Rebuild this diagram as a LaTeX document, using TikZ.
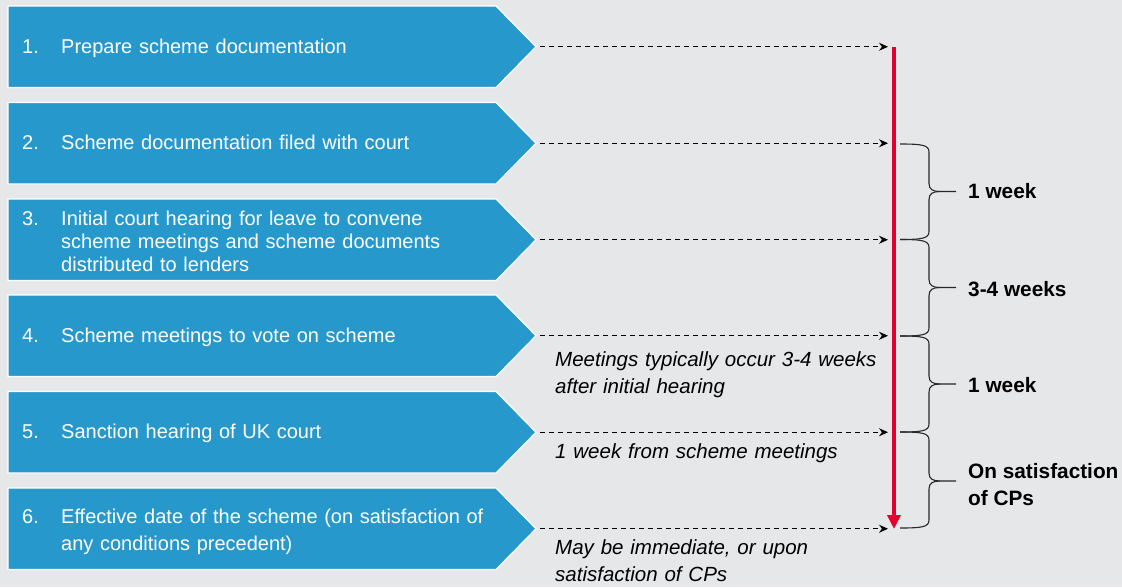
\documentclass[tikz,border=0pt]{standalone}
\usepackage{fontspec}
\setmainfont{Liberation Sans}
\usetikzlibrary{arrows.meta}
\definecolor{bg}{RGB}{230,231,233}
\definecolor{boxblue}{RGB}{38,152,203}
\definecolor{tlred}{RGB}{226,0,48}
\definecolor{bracegray}{RGB}{40,40,40}
\newcommand{\timebrace}[3]{%
  \draw[bracestyle] (900,#1) .. controls (922,#1) and (929,#1+1) .. (929,#1+8)
    -- (929,#3-8) .. controls (929,#3-2) and (933,#3) .. (940,#3) -- (956,#3);
  \draw[bracestyle] (940,#3) .. controls (933,#3) and (929,#3+2) .. (929,#3+8)
    -- (929,#2-8) .. controls (929,#2-1) and (922,#2) .. (900,#2);
}
\begin{document}
\begin{tikzpicture}[x=1pt,y=-1pt,
  chev/.style={fill=boxblue, draw=white, line width=1.2pt},
  boxtxt/.style={text=white, font=\fontsize{20}{23}\selectfont, inner sep=0pt, anchor=base west},
  boxline/.style={boxtxt, text width=440pt, align=left},
  notetxt/.style={font=\fontsize{20.5}{27}\selectfont\itshape, inner sep=0pt, anchor=base west, text width=340pt, align=left},
  durlabel/.style={font=\fontsize{20.8}{27}\selectfont\bfseries, inner sep=0pt, anchor=west, align=left},
  dasharrow/.style={dash pattern=on 5pt off 4pt, line width=1pt, -{Stealth[length=9pt,width=8pt]}},
  redline/.style={draw=tlred, line width=4pt, -{Triangle[length=14pt,width=13pt]}},
  bracestyle/.style={draw=bracegray, line width=1.1pt}
]
\fill[bg] (0,0) rectangle (1122,587);
\useasboundingbox (0,0) rectangle (1122,587);

% chevrons
\foreach \i/\t in {1/6,2/102.5,3/199,4/295,5/391.5,6/488}{
  \path[chev] (8,\t) -- (496,\t) -- (536,\t+40.75) -- (496,\t+81.5) -- (8,\t+81.5) -- cycle;
  \coordinate (tip\i) at (540,\t+40.75);
  \coordinate (m\i) at (888,\t+40.75);
}

% box texts
\node[boxtxt] (n1) at (22,53.3) {1.};
\node[boxline] (t1) at (61,53.3) {Prepare scheme documentation};
\node[boxtxt] (n2) at (22,149.8) {2.};
\node[boxline] (t2) at (61,149.8) {Scheme documentation filed with court};
\node[boxtxt] (n3) at (22,225) {3.};
\node[boxline] (t3) at (61,225) {Initial court hearing for leave to convene\\scheme meetings and scheme documents\\distributed to lenders};
\node[boxtxt] (n4) at (22,342.3) {4.};
\node[boxline] (t4) at (61,342.3) {Scheme meetings to vote on scheme};
\node[boxtxt] (n5) at (22,438.8) {5.};
\node[boxline] (t5) at (61,438.8) {Sanction hearing of UK court};
\node[boxtxt] (n6) at (22,523.5) {6.};
\node[boxline, font=\fontsize{20}{27}\selectfont] (t6) at (61,523.5) {Effective date of the scheme (on satisfaction of\\any conditions precedent)};

% dashed connectors
\foreach \i in {1,...,6}{
  \draw[dasharrow] (tip\i) -- (m\i);
}

% red timeline
\coordinate (rtop) at (894,47);
\coordinate (rbot) at (894,529);
\draw[redline] (rtop) -- (rbot);

% braces
\timebrace{144}{239.5}{191.5}
\timebrace{239.5}{336}{287.5}
\timebrace{336}{432}{384}
\timebrace{432}{528}{481}

\node[durlabel] (d1) at (968,191.5) {1 week};
\node[durlabel] (d2) at (968,289) {3-4 weeks};
\node[durlabel] (d3) at (968,385) {1 week};
\node[durlabel] (d4) at (968,485) {On satisfaction\\of CPs};

% notes
\node[notetxt] (note4) at (555,366) {Meetings typically occur 3-4 weeks\\after initial hearing};
\node[notetxt] (note5) at (555,458) {1 week from scheme meetings};
\node[notetxt] (note6) at (555,554) {May be immediate, or upon\\satisfaction of CPs};
\end{tikzpicture}
\end{document}
